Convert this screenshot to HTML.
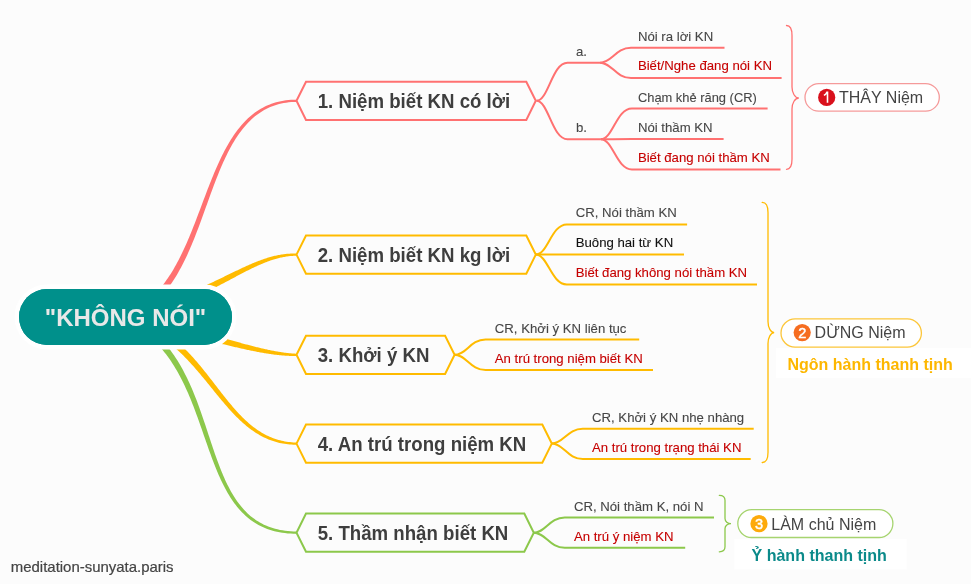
<!DOCTYPE html>
<html><head><meta charset="utf-8"><style>
html,body{margin:0;padding:0;background:#fcfcfc;width:971px;height:584px;overflow:hidden}
svg{display:block;font-family:"Liberation Sans", sans-serif;will-change:transform}
</style></head><body>
<svg width="971" height="584" viewBox="0 0 971 584">
<rect width="971" height="584" fill="#fcfcfc"/>
<path d="M153.96,303.65 L155.88,301.88 L157.75,300.05 L159.57,298.18 L161.35,296.25 L163.09,294.28 L164.78,292.26 L166.44,290.20 L168.05,288.09 L169.63,285.94 L171.17,283.75 L172.67,281.53 L174.14,279.26 L175.58,276.96 L176.98,274.63 L178.36,272.26 L179.70,269.86 L181.02,267.43 L182.31,264.98 L183.57,262.50 L184.81,259.99 L186.02,257.45 L187.22,254.90 L188.39,252.32 L189.54,249.72 L190.67,247.11 L191.78,244.48 L192.88,241.83 L193.96,239.17 L195.03,236.49 L196.08,233.80 L197.12,231.11 L198.15,228.40 L199.17,225.69 L200.18,222.97 L201.18,220.25 L202.18,217.52 L203.16,214.79 L204.15,212.07 L205.13,209.34 L206.11,206.62 L207.08,203.90 L208.06,201.18 L209.03,198.48 L210.01,195.78 L210.99,193.09 L211.97,190.41 L212.96,187.75 L213.96,185.10 L214.96,182.46 L215.97,179.85 L216.98,177.25 L218.01,174.67 L219.05,172.11 L220.10,169.58 L221.16,167.07 L222.24,164.58 L223.33,162.12 L224.44,159.70 L225.57,157.30 L226.71,154.93 L227.87,152.60 L229.06,150.30 L230.26,148.03 L231.49,145.81 L232.74,143.62 L234.01,141.47 L235.31,139.36 L236.63,137.30 L237.99,135.28 L239.37,133.30 L240.78,131.38 L242.22,129.50 L243.69,127.67 L245.19,125.89 L246.73,124.17 L248.30,122.49 L249.90,120.88 L251.55,119.32 L253.23,117.81 L254.95,116.37 L256.71,114.99 L258.51,113.66 L260.35,112.40 L262.23,111.21 L264.16,110.08 L266.14,109.01 L268.16,108.02 L270.24,107.09 L272.36,106.24 L274.53,105.45 L276.76,104.74 L279.04,104.11 L281.37,103.55 L283.76,103.07 L286.21,102.67 L288.72,102.35 L291.28,102.12 L293.91,101.96 L296.60,101.90 L296.60,99.70 L293.84,99.72 L291.13,99.84 L288.48,100.04 L285.89,100.32 L283.35,100.69 L280.87,101.15 L278.43,101.69 L276.05,102.30 L273.72,103.00 L271.45,103.78 L269.22,104.63 L267.04,105.56 L264.91,106.56 L262.82,107.63 L260.78,108.78 L258.79,109.99 L256.84,111.27 L254.94,112.61 L253.08,114.02 L251.26,115.50 L249.48,117.03 L247.74,118.62 L246.04,120.27 L244.38,121.98 L242.75,123.74 L241.16,125.55 L239.61,127.41 L238.09,129.33 L236.60,131.29 L235.14,133.30 L233.72,135.35 L232.32,137.45 L230.95,139.58 L229.61,141.76 L228.30,143.98 L227.00,146.24 L225.74,148.53 L224.49,150.85 L223.27,153.21 L222.07,155.60 L220.89,158.02 L219.72,160.47 L218.58,162.94 L217.45,165.44 L216.33,167.96 L215.23,170.51 L214.14,173.08 L213.07,175.67 L212.00,178.27 L210.94,180.89 L209.90,183.53 L208.86,186.18 L207.82,188.85 L206.80,191.52 L205.77,194.20 L204.75,196.90 L203.74,199.59 L202.72,202.30 L201.71,205.00 L200.69,207.71 L199.67,210.42 L198.65,213.12 L197.62,215.83 L196.59,218.53 L195.56,221.22 L194.51,223.91 L193.46,226.59 L192.40,229.26 L191.33,231.92 L190.25,234.56 L189.16,237.19 L188.05,239.81 L186.93,242.40 L185.79,244.98 L184.64,247.54 L183.47,250.07 L182.29,252.58 L181.08,255.07 L179.85,257.53 L178.61,259.96 L177.34,262.36 L176.05,264.73 L174.73,267.07 L173.39,269.38 L172.03,271.65 L170.64,273.88 L169.22,276.07 L167.77,278.22 L166.29,280.34 L164.79,282.40 L163.25,284.43 L161.68,286.41 L160.08,288.34 L158.44,290.22 L156.77,292.06 L155.07,293.84 L153.33,295.57 L151.55,297.25 L149.74,298.87Z" fill="#ff7171"/>
<path d="M199.75,295.17 L201.00,294.58 L202.24,293.99 L203.48,293.39 L204.70,292.80 L205.91,292.21 L207.11,291.62 L208.31,291.03 L209.49,290.44 L210.66,289.85 L211.83,289.26 L212.98,288.68 L214.13,288.09 L215.27,287.51 L216.39,286.93 L217.51,286.35 L218.63,285.77 L219.73,285.20 L220.83,284.62 L221.91,284.05 L222.99,283.48 L224.07,282.92 L225.13,282.35 L226.19,281.79 L227.24,281.24 L228.28,280.68 L229.32,280.13 L230.35,279.58 L231.37,279.03 L232.38,278.49 L233.39,277.95 L234.40,277.42 L235.40,276.89 L236.39,276.36 L237.37,275.84 L238.35,275.32 L239.33,274.81 L240.30,274.30 L241.26,273.79 L242.22,273.29 L243.18,272.79 L244.13,272.30 L245.07,271.81 L246.01,271.33 L246.95,270.86 L247.88,270.38 L248.81,269.92 L249.74,269.46 L250.66,269.00 L251.57,268.55 L252.49,268.11 L253.40,267.67 L254.31,267.24 L255.21,266.81 L256.11,266.39 L257.01,265.98 L257.91,265.58 L258.81,265.17 L259.70,264.78 L260.59,264.39 L261.48,264.01 L262.37,263.64 L263.25,263.28 L264.13,262.92 L265.02,262.57 L265.90,262.22 L266.78,261.89 L267.66,261.56 L268.54,261.24 L269.42,260.92 L270.30,260.62 L271.18,260.32 L272.06,260.03 L272.94,259.75 L273.81,259.48 L274.69,259.21 L275.58,258.96 L276.46,258.71 L277.34,258.47 L278.22,258.24 L279.11,258.02 L280.00,257.81 L280.88,257.61 L281.77,257.42 L282.67,257.23 L283.56,257.06 L284.46,256.90 L285.36,256.74 L286.26,256.60 L287.16,256.46 L288.07,256.34 L288.98,256.23 L289.89,256.12 L290.81,256.03 L291.73,255.95 L292.66,255.88 L293.59,255.82 L294.52,255.77 L295.46,255.73 L296.40,255.70 L296.40,253.50 L295.43,253.48 L294.47,253.48 L293.50,253.49 L292.54,253.51 L291.59,253.53 L290.64,253.58 L289.69,253.63 L288.74,253.69 L287.79,253.76 L286.85,253.85 L285.91,253.94 L284.97,254.05 L284.04,254.16 L283.11,254.29 L282.17,254.42 L281.24,254.57 L280.32,254.73 L279.39,254.89 L278.46,255.07 L277.54,255.25 L276.62,255.44 L275.69,255.65 L274.77,255.86 L273.85,256.08 L272.93,256.31 L272.01,256.55 L271.09,256.80 L270.17,257.05 L269.25,257.32 L268.33,257.59 L267.41,257.87 L266.49,258.16 L265.57,258.46 L264.65,258.76 L263.73,259.07 L262.81,259.39 L261.89,259.72 L260.96,260.05 L260.04,260.39 L259.11,260.74 L258.18,261.10 L257.25,261.46 L256.32,261.83 L255.39,262.20 L254.45,262.58 L253.52,262.97 L252.58,263.36 L251.63,263.76 L250.69,264.17 L249.74,264.58 L248.79,265.00 L247.84,265.42 L246.88,265.85 L245.92,266.28 L244.96,266.72 L243.99,267.16 L243.02,267.61 L242.05,268.06 L241.07,268.52 L240.09,268.98 L239.10,269.44 L238.11,269.92 L237.11,270.39 L236.11,270.87 L235.11,271.35 L234.10,271.84 L233.08,272.33 L232.06,272.82 L231.04,273.32 L230.00,273.82 L228.97,274.32 L227.93,274.83 L226.88,275.34 L225.82,275.85 L224.76,276.36 L223.69,276.88 L222.62,277.40 L221.54,277.92 L220.45,278.45 L219.36,278.98 L218.26,279.51 L217.15,280.04 L216.03,280.57 L214.91,281.10 L213.78,281.64 L212.64,282.18 L211.49,282.72 L210.34,283.26 L209.18,283.80 L208.01,284.34 L206.83,284.88 L205.64,285.43 L204.44,285.97 L203.23,286.52 L202.02,287.06 L200.79,287.61 L199.56,288.15 L198.32,288.70 L197.06,289.25Z" fill="#ffbb00"/>
<path d="M209.99,340.92 L210.99,341.17 L211.99,341.42 L212.98,341.67 L213.98,341.92 L214.97,342.17 L215.96,342.42 L216.95,342.67 L217.94,342.91 L218.93,343.16 L219.92,343.40 L220.90,343.65 L221.88,343.89 L222.86,344.13 L223.84,344.37 L224.82,344.61 L225.80,344.85 L226.77,345.08 L227.74,345.32 L228.71,345.55 L229.68,345.78 L230.64,346.02 L231.61,346.25 L232.57,346.47 L233.53,346.70 L234.49,346.92 L235.44,347.15 L236.39,347.37 L237.34,347.59 L238.29,347.81 L239.24,348.02 L240.18,348.24 L241.12,348.45 L242.06,348.66 L243.00,348.87 L243.93,349.07 L244.86,349.28 L245.79,349.48 L246.71,349.68 L247.64,349.88 L248.56,350.07 L249.47,350.26 L250.39,350.45 L251.30,350.64 L252.21,350.83 L253.11,351.01 L254.02,351.19 L254.91,351.37 L255.81,351.54 L256.70,351.72 L257.60,351.89 L258.48,352.05 L259.37,352.22 L260.25,352.38 L261.12,352.54 L262.00,352.69 L262.87,352.84 L263.74,352.99 L264.60,353.14 L265.46,353.28 L266.32,353.42 L267.17,353.56 L268.02,353.69 L268.87,353.82 L269.71,353.95 L270.55,354.07 L271.39,354.19 L272.22,354.31 L273.04,354.42 L273.87,354.53 L274.69,354.63 L275.50,354.74 L276.32,354.83 L277.12,354.93 L277.93,355.02 L278.73,355.10 L279.52,355.19 L280.32,355.27 L281.10,355.34 L281.89,355.41 L282.67,355.48 L283.44,355.54 L284.21,355.60 L284.98,355.65 L285.74,355.70 L286.49,355.75 L287.25,355.79 L288.00,355.82 L288.74,355.86 L289.48,355.88 L290.21,355.91 L290.94,355.92 L291.67,355.94 L292.38,355.95 L293.10,355.95 L293.81,355.95 L294.51,355.95 L295.21,355.94 L295.91,355.92 L296.60,355.90 L296.60,353.70 L295.93,353.68 L295.25,353.65 L294.56,353.61 L293.88,353.57 L293.18,353.53 L292.49,353.48 L291.78,353.43 L291.08,353.37 L290.37,353.30 L289.65,353.24 L288.93,353.17 L288.20,353.09 L287.47,353.01 L286.74,352.93 L286.00,352.84 L285.26,352.74 L284.51,352.65 L283.76,352.54 L283.01,352.44 L282.25,352.33 L281.48,352.22 L280.71,352.10 L279.94,351.98 L279.17,351.85 L278.39,351.72 L277.60,351.59 L276.81,351.45 L276.02,351.31 L275.22,351.17 L274.42,351.02 L273.62,350.87 L272.81,350.71 L272.00,350.55 L271.18,350.39 L270.37,350.23 L269.54,350.06 L268.72,349.89 L267.89,349.71 L267.05,349.53 L266.21,349.35 L265.37,349.16 L264.53,348.98 L263.68,348.79 L262.83,348.59 L261.98,348.39 L261.12,348.19 L260.26,347.99 L259.39,347.78 L258.52,347.58 L257.65,347.36 L256.78,347.15 L255.90,346.93 L255.02,346.71 L254.14,346.49 L253.25,346.27 L252.36,346.04 L251.47,345.81 L250.57,345.58 L249.67,345.34 L248.77,345.10 L247.87,344.87 L246.96,344.62 L246.05,344.38 L245.14,344.13 L244.22,343.89 L243.31,343.64 L242.39,343.38 L241.46,343.13 L240.54,342.87 L239.61,342.62 L238.68,342.36 L237.75,342.09 L236.81,341.83 L235.87,341.57 L234.93,341.30 L233.99,341.03 L233.04,340.76 L232.10,340.49 L231.15,340.21 L230.20,339.94 L229.24,339.66 L228.29,339.39 L227.33,339.11 L226.37,338.83 L225.41,338.55 L224.45,338.26 L223.48,337.98 L222.51,337.69 L221.54,337.41 L220.57,337.12 L219.60,336.83 L218.62,336.54 L217.65,336.25 L216.67,335.96 L215.69,335.67 L214.71,335.38 L213.73,335.09 L212.74,334.79 L211.76,334.50Z" fill="#ffbb00"/>
<path d="M165.41,340.09 L166.90,341.21 L168.37,342.34 L169.83,343.49 L171.27,344.66 L172.70,345.85 L174.11,347.05 L175.50,348.26 L176.88,349.50 L178.25,350.74 L179.60,352.01 L180.94,353.28 L182.27,354.57 L183.58,355.87 L184.88,357.18 L186.17,358.50 L187.45,359.83 L188.72,361.17 L189.97,362.52 L191.22,363.88 L192.46,365.25 L193.68,366.62 L194.90,368.00 L196.11,369.39 L197.32,370.78 L198.51,372.17 L199.70,373.58 L200.88,374.98 L202.05,376.39 L203.22,377.80 L204.39,379.21 L205.54,380.62 L206.70,382.04 L207.85,383.45 L208.99,384.86 L210.14,386.27 L211.28,387.68 L212.42,389.09 L213.55,390.49 L214.69,391.89 L215.82,393.28 L216.95,394.67 L218.09,396.06 L219.22,397.43 L220.35,398.80 L221.49,400.17 L222.63,401.52 L223.76,402.87 L224.91,404.20 L226.05,405.53 L227.20,406.84 L228.35,408.15 L229.51,409.44 L230.67,410.72 L231.84,411.99 L233.01,413.24 L234.19,414.48 L235.38,415.70 L236.57,416.90 L237.77,418.09 L238.98,419.27 L240.19,420.42 L241.42,421.56 L242.66,422.68 L243.90,423.77 L245.16,424.85 L246.42,425.91 L247.70,426.94 L248.99,427.96 L250.29,428.95 L251.61,429.91 L252.94,430.85 L254.28,431.77 L255.63,432.66 L257.00,433.53 L258.38,434.36 L259.78,435.17 L261.20,435.96 L262.63,436.71 L264.07,437.43 L265.53,438.12 L267.01,438.79 L268.51,439.42 L270.03,440.02 L271.56,440.58 L273.11,441.11 L274.68,441.61 L276.27,442.07 L277.88,442.50 L279.51,442.89 L281.16,443.25 L282.84,443.57 L284.53,443.85 L286.24,444.09 L287.98,444.29 L289.74,444.45 L291.52,444.58 L293.32,444.66 L295.15,444.70 L297.00,444.70 L297.00,442.50 L295.20,442.46 L293.43,442.38 L291.68,442.25 L289.96,442.09 L288.26,441.89 L286.59,441.66 L284.94,441.38 L283.31,441.07 L281.71,440.72 L280.13,440.34 L278.57,439.92 L277.03,439.47 L275.52,438.99 L274.02,438.47 L272.55,437.92 L271.09,437.34 L269.65,436.72 L268.23,436.08 L266.83,435.41 L265.44,434.71 L264.07,433.97 L262.72,433.22 L261.38,432.43 L260.06,431.61 L258.75,430.77 L257.46,429.91 L256.18,429.01 L254.91,428.10 L253.66,427.15 L252.41,426.19 L251.18,425.20 L249.96,424.19 L248.75,423.15 L247.55,422.10 L246.36,421.02 L245.18,419.92 L244.01,418.81 L242.84,417.67 L241.69,416.52 L240.54,415.34 L239.40,414.15 L238.26,412.94 L237.13,411.72 L236.01,410.48 L234.89,409.22 L233.77,407.95 L232.66,406.67 L231.56,405.37 L230.46,404.06 L229.36,402.73 L228.26,401.40 L227.16,400.05 L226.07,398.69 L224.98,397.32 L223.88,395.94 L222.79,394.56 L221.70,393.16 L220.60,391.76 L219.51,390.35 L218.41,388.94 L217.32,387.51 L216.21,386.09 L215.11,384.65 L214.00,383.22 L212.89,381.78 L211.77,380.33 L210.65,378.89 L209.53,377.44 L208.39,375.99 L207.25,374.54 L206.11,373.09 L204.96,371.65 L203.79,370.20 L202.62,368.75 L201.45,367.31 L200.26,365.87 L199.06,364.43 L197.86,363.00 L196.64,361.57 L195.41,360.15 L194.17,358.73 L192.91,357.32 L191.65,355.92 L190.37,354.53 L189.08,353.14 L187.77,351.76 L186.45,350.40 L185.11,349.04 L183.76,347.69 L182.39,346.36 L181.01,345.03 L179.61,343.72 L178.19,342.43 L176.75,341.15 L175.29,339.88 L173.82,338.63 L172.32,337.39 L170.81,336.17 L169.27,334.97Z" fill="#ffbb00"/>
<path d="M146.82,334.30 L148.98,336.11 L151.09,337.96 L153.14,339.86 L155.13,341.81 L157.08,343.80 L158.97,345.83 L160.81,347.90 L162.61,350.01 L164.35,352.16 L166.06,354.35 L167.71,356.57 L169.33,358.83 L170.90,361.12 L172.43,363.44 L173.93,365.80 L175.38,368.18 L176.80,370.59 L178.19,373.03 L179.53,375.50 L180.85,377.99 L182.13,380.50 L183.39,383.03 L184.61,385.59 L185.81,388.16 L186.98,390.75 L188.13,393.36 L189.25,395.98 L190.35,398.61 L191.43,401.26 L192.49,403.92 L193.53,406.58 L194.55,409.26 L195.56,411.94 L196.55,414.63 L197.53,417.32 L198.50,420.01 L199.46,422.70 L200.41,425.40 L201.35,428.09 L202.28,430.77 L203.21,433.46 L204.14,436.14 L205.06,438.81 L205.99,441.47 L206.91,444.12 L207.84,446.76 L208.77,449.39 L209.70,452.00 L210.64,454.60 L211.59,457.18 L212.54,459.74 L213.51,462.29 L214.49,464.81 L215.48,467.31 L216.49,469.78 L217.51,472.24 L218.55,474.66 L219.61,477.06 L220.69,479.43 L221.79,481.76 L222.92,484.07 L224.07,486.34 L225.24,488.58 L226.45,490.78 L227.68,492.94 L228.94,495.07 L230.23,497.15 L231.56,499.20 L232.92,501.20 L234.32,503.15 L235.76,505.06 L237.23,506.92 L238.75,508.73 L240.31,510.49 L241.91,512.20 L243.55,513.86 L245.24,515.46 L246.98,517.00 L248.77,518.49 L250.60,519.91 L252.49,521.27 L254.43,522.58 L256.42,523.81 L258.47,524.98 L260.57,526.08 L262.73,527.12 L264.95,528.08 L267.22,528.97 L269.56,529.79 L271.96,530.54 L274.42,531.21 L276.94,531.80 L279.53,532.32 L282.19,532.75 L284.91,533.11 L287.70,533.38 L290.56,533.57 L293.49,533.68 L296.50,533.70 L296.50,531.50 L293.56,531.44 L290.70,531.29 L287.91,531.06 L285.20,530.76 L282.56,530.37 L279.99,529.91 L277.49,529.37 L275.06,528.75 L272.70,528.07 L270.40,527.31 L268.17,526.49 L266.00,525.59 L263.89,524.63 L261.84,523.60 L259.85,522.51 L257.91,521.36 L256.03,520.14 L254.20,518.86 L252.42,517.53 L250.69,516.13 L249.01,514.68 L247.37,513.17 L245.78,511.61 L244.24,510.00 L242.73,508.33 L241.26,506.61 L239.84,504.84 L238.45,503.02 L237.10,501.15 L235.78,499.24 L234.50,497.28 L233.24,495.28 L232.02,493.23 L230.83,491.15 L229.67,489.02 L228.53,486.85 L227.42,484.65 L226.33,482.41 L225.27,480.13 L224.23,477.82 L223.21,475.48 L222.20,473.11 L221.22,470.70 L220.25,468.27 L219.29,465.81 L218.35,463.33 L217.42,460.82 L216.50,458.29 L215.60,455.73 L214.69,453.16 L213.80,450.56 L212.91,447.95 L212.03,445.32 L211.14,442.68 L210.26,440.02 L209.38,437.35 L208.49,434.67 L207.61,431.97 L206.72,429.27 L205.82,426.56 L204.92,423.85 L204.00,421.13 L203.08,418.41 L202.14,415.69 L201.20,412.96 L200.24,410.24 L199.26,407.52 L198.26,404.80 L197.25,402.08 L196.22,399.37 L195.16,396.67 L194.08,393.98 L192.98,391.30 L191.85,388.62 L190.70,385.96 L189.51,383.32 L188.30,380.69 L187.05,378.07 L185.77,375.47 L184.45,372.90 L183.10,370.34 L181.72,367.80 L180.29,365.29 L178.82,362.80 L177.31,360.34 L175.75,357.91 L174.15,355.50 L172.51,353.13 L170.81,350.78 L169.07,348.47 L167.27,346.19 L165.42,343.95 L163.52,341.75 L161.56,339.58 L159.55,337.46 L157.47,335.38 L155.34,333.34 L153.14,331.34 L150.88,329.40Z" fill="#8cc84b"/>
<rect x="19" y="289" width="213" height="56" rx="28" ry="28" fill="#00908b" stroke="#ffffff" stroke-width="9" paint-order="stroke"/>
<rect x="19" y="289" width="213" height="56" rx="28" ry="28" fill="#00908b"/>
<text x="125.5" y="326" text-anchor="middle" font-size="24" font-weight="bold" fill="#e8e8e8">"KHÔNG NÓI"</text>
<path d="M296.5,100.8 L306.0,81.69999999999999 L526.3,81.69999999999999 L535.8,100.8 L526.3,119.9 L306.0,119.9 Z" fill="#fcfcfc" stroke="#ff7171" stroke-width="2" stroke-linejoin="miter"/>
<text transform="translate(317.7,107.7) scale(1,1.08)" font-size="18.65" font-weight="bold" fill="#3e3e3e">1. Niệm biết KN có lời</text>
<path d="M296.5,254.6 L306.0,235.5 L526.3,235.5 L535.8,254.6 L526.3,273.7 L306.0,273.7 Z" fill="#fcfcfc" stroke="#ffbb00" stroke-width="2" stroke-linejoin="miter"/>
<text transform="translate(317.7,261.5) scale(1,1.08)" font-size="18.65" font-weight="bold" fill="#3e3e3e">2. Niệm biết KN kg lời</text>
<path d="M296.5,354.8 L306.0,335.7 L445.1,335.7 L454.6,354.8 L445.1,373.90000000000003 L306.0,373.90000000000003 Z" fill="#fcfcfc" stroke="#ffbb00" stroke-width="2" stroke-linejoin="miter"/>
<text transform="translate(317.7,361.7) scale(1,1.08)" font-size="18.65" font-weight="bold" fill="#3e3e3e">3. Khởi ý KN</text>
<path d="M296.5,443.6 L306.0,424.5 L542.3,424.5 L551.8,443.6 L542.3,462.70000000000005 L306.0,462.70000000000005 Z" fill="#fcfcfc" stroke="#ffbb00" stroke-width="2" stroke-linejoin="miter"/>
<text transform="translate(317.7,450.5) scale(1,1.08)" font-size="18.65" font-weight="bold" fill="#3e3e3e">4. An trú trong niệm KN</text>
<path d="M296.5,532.7 L306.0,513.6 L524.3,513.6 L533.8,532.7 L524.3,551.8000000000001 L306.0,551.8000000000001 Z" fill="#fcfcfc" stroke="#8cc84b" stroke-width="2" stroke-linejoin="miter"/>
<text transform="translate(317.7,539.6) scale(1,1.08)" font-size="18.65" font-weight="bold" fill="#3e3e3e">5. Thầm nhận biết KN</text>
<path d="M536.5,100.8 C548.50,100.8 552.00,62.7 567.50,62.7 L600.0,62.7" fill="none" stroke="#ff7171" stroke-width="2"/>
<path d="M536.5,100.8 C548.50,100.8 552.00,139.2 567.50,139.2 L600.9,139.2" fill="none" stroke="#ff7171" stroke-width="2"/>
<text transform="translate(575.9,55.7) scale(1,1.03)" font-size="13.2" font-weight="normal" fill="#464646" stroke="#464646" stroke-width="0.1">a.</text>
<text transform="translate(575.9,132) scale(1,1.03)" font-size="13.2" font-weight="normal" fill="#464646" stroke="#464646" stroke-width="0.1">b.</text>
<path d="M600.0,62.7 C612.00,62.7 615.50,47.8 631.00,47.8 L724.5,47.8" fill="none" stroke="#ff7171" stroke-width="2"/>
<path d="M600.0,62.7 C612.00,62.7 615.50,78.0 631.00,78.0 L781.6,78.0" fill="none" stroke="#ff7171" stroke-width="2"/>
<path d="M600.9,139.2 C612.90,139.2 616.40,108.5 631.90,108.5 L767.6,108.5" fill="none" stroke="#ff7171" stroke-width="2"/>
<path d="M600.9,139.2 C612.90,139.2 616.40,139.1 631.90,139.1 L723.6,139.1" fill="none" stroke="#ff7171" stroke-width="2"/>
<path d="M600.9,139.2 C612.90,139.2 616.40,169.4 631.90,169.4 L780.5,169.4" fill="none" stroke="#ff7171" stroke-width="2"/>
<text transform="translate(637.9,40.8) scale(1,1.03)" font-size="13.2" font-weight="normal" fill="#464646" stroke="#464646" stroke-width="0.1">Nói ra lời KN</text>
<text transform="translate(637.9,70.4) scale(1,1.03)" font-size="13.2" font-weight="normal" fill="#c60000" stroke="#c60000" stroke-width="0.1">Biết/Nghe đang nói KN</text>
<text transform="translate(637.9,102) scale(1,1.03)" font-size="13.2" fill="#464646" stroke="#464646" stroke-width="0.1" textLength="118.9" lengthAdjust="spacingAndGlyphs">Chạm khẻ răng (CR)</text>
<text transform="translate(637.9,131.7) scale(1,1.03)" font-size="13.2" font-weight="normal" fill="#464646" stroke="#464646" stroke-width="0.1">Nói thầm KN</text>
<text transform="translate(637.9,162) scale(1,1.03)" font-size="13.2" font-weight="normal" fill="#c60000" stroke="#c60000" stroke-width="0.1">Biết đang nói thầm KN</text>
<path d="M535.8,254.6 C547.80,254.6 551.30,224.4 566.80,224.4 L687.1,224.4" fill="none" stroke="#ffbb00" stroke-width="2"/>
<path d="M535.8,254.6 C547.80,254.6 551.30,254.6 566.80,254.6 L684.0,254.6" fill="none" stroke="#ffbb00" stroke-width="2"/>
<path d="M535.8,254.6 C547.80,254.6 551.30,284.5 566.80,284.5 L757.0,284.5" fill="none" stroke="#ffbb00" stroke-width="2"/>
<text transform="translate(575.7,216.7) scale(1,1.03)" font-size="13.2" font-weight="normal" fill="#464646" stroke="#464646" stroke-width="0.1">CR, Nói thầm KN</text>
<text transform="translate(575.7,247.2) scale(1,1.03)" font-size="13.2" font-weight="normal" fill="#111111" stroke="#111111" stroke-width="0.1">Buông hai từ KN</text>
<text transform="translate(575.7,276.8) scale(1,1.03)" font-size="13.2" font-weight="normal" fill="#c60000" stroke="#c60000" stroke-width="0.1">Biết đang không nói thầm KN</text>
<path d="M454.6,354.8 C466.60,354.8 470.10,339.5 485.60,339.5 L639.2,339.5" fill="none" stroke="#ffbb00" stroke-width="2"/>
<path d="M454.6,354.8 C466.60,354.8 470.10,370.0 485.60,370.0 L653.0,370.0" fill="none" stroke="#ffbb00" stroke-width="2"/>
<text transform="translate(494.8,333.1) scale(1,1.03)" font-size="13.2" font-weight="normal" fill="#464646" stroke="#464646" stroke-width="0.1">CR, Khởi ý KN liên tục</text>
<text transform="translate(494.8,362.8) scale(1,1.03)" font-size="13.2" font-weight="normal" fill="#c60000" stroke="#c60000" stroke-width="0.1">An trú trong niệm biết KN</text>
<path d="M551.8,443.6 C563.80,443.6 567.30,428.7 582.80,428.7 L753.7,428.7" fill="none" stroke="#ffbb00" stroke-width="2"/>
<path d="M551.8,443.6 C563.80,443.6 567.30,459.0 582.80,459.0 L750.7,459.0" fill="none" stroke="#ffbb00" stroke-width="2"/>
<text transform="translate(592.0,421.9) scale(1,1.03)" font-size="13.2" font-weight="normal" fill="#464646" stroke="#464646" stroke-width="0.1">CR, Khởi ý KN nhẹ nhàng</text>
<text transform="translate(592.0,452.3) scale(1,1.03)" font-size="13.2" font-weight="normal" fill="#c60000" stroke="#c60000" stroke-width="0.1">An trú trong trạng thái KN</text>
<path d="M533.8,532.7 C545.80,532.7 549.30,517.5 564.80,517.5 L714.0,517.5" fill="none" stroke="#8cc84b" stroke-width="2"/>
<path d="M533.8,532.7 C545.80,532.7 549.30,547.8 564.80,547.8 L685.2,547.8" fill="none" stroke="#8cc84b" stroke-width="2"/>
<text transform="translate(573.9,510.7) scale(1,1.03)" font-size="13.2" font-weight="normal" fill="#464646" stroke="#464646" stroke-width="0.1">CR, Nói thầm K, nói N</text>
<text transform="translate(573.9,540.6) scale(1,1.03)" font-size="13.2" font-weight="normal" fill="#c60000" stroke="#c60000" stroke-width="0.1">An trú ý niệm KN</text>
<path d="M786.5,25.5 C789.8,25.5 792,29.0 792,35.5 L792,87 C792,93.05 795.06,98 798.8,98 C795.06,98 792,102.95 792,109 L792,159.3 C792,165.8 789.8,169.3 786.5,169.3" fill="none" stroke="#ff7171" stroke-width="1.3" stroke-linecap="round"/>
<path d="M762.2,202.4 C765.6800000000001,202.4 768,205.9 768,212.4 L768,321.6 C768,327.65000000000003 770.79,332.6 774.2,332.6 C770.79,332.6 768,337.55 768,343.6 L768,452.5 C768,459.0 765.6800000000001,462.5 762.2,462.5" fill="none" stroke="#ffbb00" stroke-width="1.3" stroke-linecap="round"/>
<path d="M719.3,495.3 C722.72,495.3 725,497.05 725,500.3 L725,518.6 C725,521.35 727.7,523.6 731,523.6 C727.7,523.6 725,525.85 725,528.6 L725,546.8 C725,550.05 722.72,551.8 719.3,551.8" fill="none" stroke="#8cc84b" stroke-width="1.3" stroke-linecap="round"/>
<rect x="805" y="83.6" width="134.29999999999995" height="27.60000000000001" rx="13.800000000000004" ry="13.800000000000004" fill="#ffffff" stroke="#f59a9a" stroke-width="1.3"/>
<circle cx="826.7" cy="97.4" r="8.6" fill="#d9101c"/>
<path d="M827.50,102.80 L827.50,92.20 L826.90,92.20 C826.20,93.80 825.10,94.80 823.90,95.40" fill="none" stroke="#ffffff" stroke-width="1.6"/>
<text x="839.0" y="103.0" font-size="16" fill="#444444">THÂY Niệm</text>
<rect x="781" y="318.9" width="140.39999999999998" height="28.30000000000001" rx="14.150000000000006" ry="14.150000000000006" fill="#ffffff" stroke="#fcc63a" stroke-width="1.3"/>
<circle cx="802.2" cy="332.6" r="8.6" fill="#f66d20"/>
<text x="802.2" y="337.90" text-anchor="middle" font-size="14.6" fill="#ffffff" stroke="#ffffff" stroke-width="0.45">2</text>
<text x="814.6" y="337.75" font-size="16" fill="#444444">DỪNG Niệm</text>
<rect x="737.8" y="509.7" width="155.10000000000002" height="27.80000000000001" rx="13.900000000000006" ry="13.900000000000006" fill="#ffffff" stroke="#a6d46f" stroke-width="1.3"/>
<circle cx="759.0" cy="523.7" r="8.6" fill="#fdaa0b"/>
<text x="759.0" y="529.00" text-anchor="middle" font-size="14.6" fill="#ffffff" stroke="#ffffff" stroke-width="0.45">3</text>
<text x="771.3" y="530.3" font-size="16" fill="#444444">LÀM chủ Niệm</text>
<rect x="776" y="348" width="195" height="30" fill="#ffffff"/>
<text x="787.5" y="369.6" font-size="16.0" font-weight="bold" fill="#fdb700">Ngôn hành thanh tịnh</text>
<rect x="734.3" y="539" width="172.4" height="30.4" fill="#ffffff"/>
<text x="751.5" y="561.0" font-size="16.05" font-weight="bold" fill="#0b8a8a">Ỷ hành thanh tịnh</text>
<text x="10.8" y="572" font-size="14.95" font-weight="normal" fill="#444444" stroke="#444444" stroke-width="0.2">meditation-sunyata.paris</text>
</svg></body></html>
